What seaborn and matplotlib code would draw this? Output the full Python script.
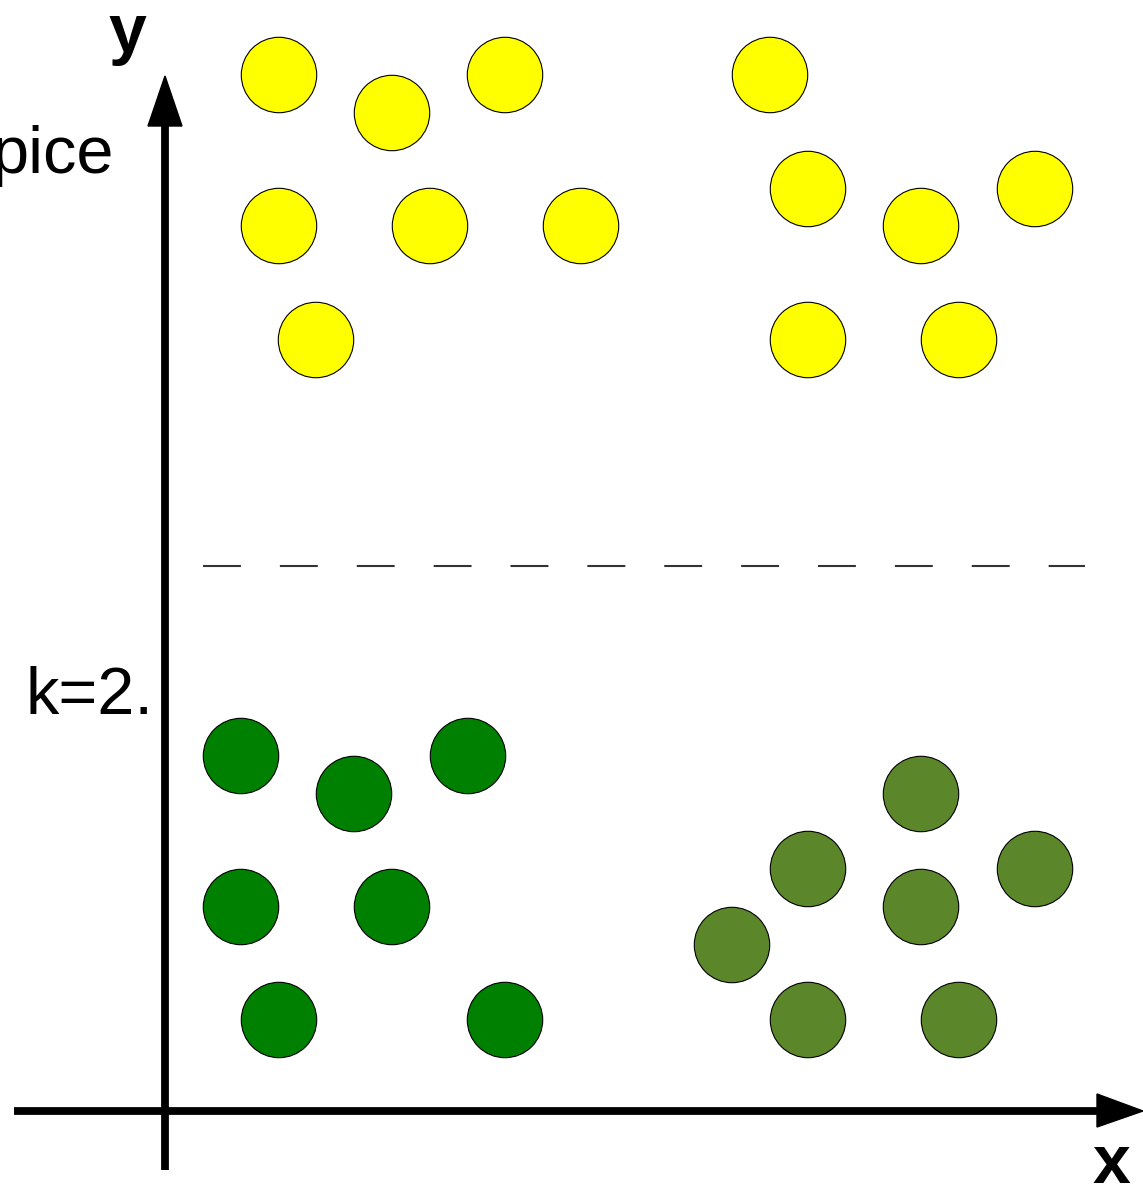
import matplotlib
matplotlib.use("Agg")
import matplotlib.pyplot as plt
import seaborn as sns
import pandas as pd

sns.set_theme(style="white")
plt.rcParams["font.family"] = ["Liberation Sans", "DejaVu Sans"]
plt.rcParams["text.color"] = "black"

# Point positions on the drawing canvas (pixels, y grows downward)
yellow_x = [279, 392, 505, 770, 279, 430, 581, 808, 921, 1035, 316, 808, 959]
yellow_y = [75, 113, 75, 75, 226, 226, 226, 189, 226, 189, 340, 340, 340]

green_x = [241, 354, 468, 241, 392, 279, 505]
green_y = [756, 794, 756, 907, 907, 1020, 1020]

olive_x = [921, 808, 1035, 921, 732, 808, 959]
olive_y = [794, 869, 869, 907, 945, 1020, 1020]

groups = ["yellow", "green", "olive"]
colors = {"yellow": "#FFFF00", "green": "#008000", "olive": "#5B862A"}

df = pd.DataFrame({
    "x": yellow_x + green_x + olive_x,
    "y": yellow_y + green_y + olive_y,
    "group": ["yellow"] * len(yellow_x) + ["green"] * len(green_x) + ["olive"] * len(olive_x),
})

W, H = 1143, 1186
fig = plt.figure(figsize=(W / 100, H / 100), dpi=100)
ax = fig.add_axes([0, 0, 1, 1])
ax.set_xlim(0, W)
ax.set_ylim(H, 0)
ax.axis("off")

sns.scatterplot(data=df, x="x", y="y", hue="group", hue_order=groups,
                palette=colors, s=2950, edgecolor="black", linewidth=0.8,
                legend=False, ax=ax, zorder=3)

# Coordinate axes with arrow heads
ax.plot([165, 165], [1170, 120], color="black", lw=5.6, solid_capstyle="butt", zorder=2)
ax.fill([148, 182, 165], [126, 126, 76], color="black", zorder=2)
ax.plot([14, 1100], [1111, 1111], color="black", lw=5.6, solid_capstyle="butt", zorder=2)
ax.fill([1097, 1097, 1143], [1094, 1127, 1111], color="black", zorder=2)

# Dashed separator
ax.plot([203, 1085], [566, 566], color="#333333", lw=1.5,
        linestyle=(0, (18.2, 18.7)), zorder=1)

# Labels
ax.text(127, 52, "y", fontsize=49, fontweight="bold", ha="center", va="baseline", color="black")
ax.text(1111, 1183, "x", fontsize=49, fontweight="bold", ha="center", va="baseline", color="black")
ax.text(114, 173, "pice", fontsize=48, ha="right", va="baseline", color="black")
ax.text(153, 714, "k=2.", fontsize=48, ha="right", va="baseline", color="black")

fig.savefig("out.png", dpi=100)
